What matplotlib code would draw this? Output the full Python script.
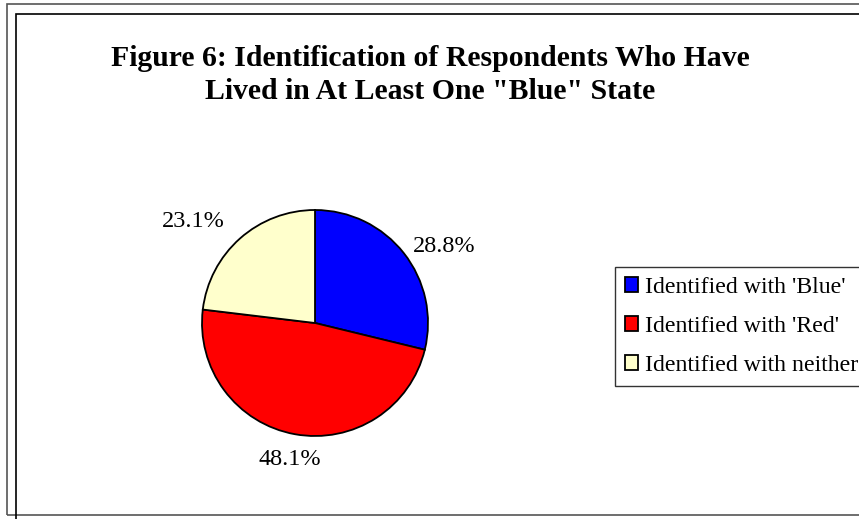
import numpy as np
import matplotlib.pyplot as plt
from matplotlib.patches import Rectangle

labels = ["Identified with 'Blue'", "Identified with 'Red'", "Identified with neither"]
shares = [28.8, 48.1, 23.1]
colors = ['#0000FF', '#FF0000', '#FFFFCC']
title = 'Figure 6: Identification of Respondents Who Have\nLived in At Least One "Blue" State'

W, H = 859, 519
plt.rcParams['font.family'] = ['Liberation Serif', 'DejaVu Serif']
fig = plt.figure(figsize=(W / 100, H / 100), dpi=100)

# chart frames (cut off at right / bottom like the original)
fig.add_artist(Rectangle((7 / W, 1 - 515 / H), 900 / W, 511 / H, transform=fig.transFigure,
                         fill=False, edgecolor='#555555', lw=1.2))
fig.add_artist(Rectangle((16 / W, -0.1), 900 / W, 1.1 - 14 / H, transform=fig.transFigure,
                         fill=False, edgecolor='black', lw=1.2))

fig.text(430 / W, 1 - 75 / H, title, ha='center', va='center', fontsize=21.4,
         fontweight='bold', linespacing=1.33)

# pie, center (315, 323), radius 113 px
r = 113
ax = fig.add_axes([(315 - r) / W, 1 - (323 + r) / H, 2 * r / W, 2 * r / H])
wedges, texts = ax.pie(shares, colors=colors, startangle=90, counterclock=False,
                       labels=[f'{s:.1f}%' for s in shares],
                       wedgeprops=dict(edgecolor='black', linewidth=1.3),
                       textprops=dict(fontsize=17.5))
# excel-like "best fit" label placement
dist = [1.1, 1.23, 1.2]
align = ['left', 'center', 'right']
for w, t, d, a in zip(wedges, texts, dist, align):
    ang = np.deg2rad((w.theta1 + w.theta2) / 2)
    t.set_position((d * np.cos(ang), d * np.sin(ang)))
    t.set_ha(a)
    t.set_va('center')
ax.set_xlim(-1, 1)
ax.set_ylim(-1, 1)
ax.set_aspect('equal')

leg = fig.legend(wedges, labels, loc='upper left', bbox_to_anchor=(615 / W, 1 - 267 / H),
                 fontsize=17.2, frameon=True, fancybox=False, edgecolor='black',
                 handlelength=0.55, handleheight=0.55, handletextpad=0.3,
                 labelspacing=0.75, borderpad=0.42, borderaxespad=0)
leg.get_frame().set_linewidth(1.0)

fig.savefig('out.png', dpi=100)
